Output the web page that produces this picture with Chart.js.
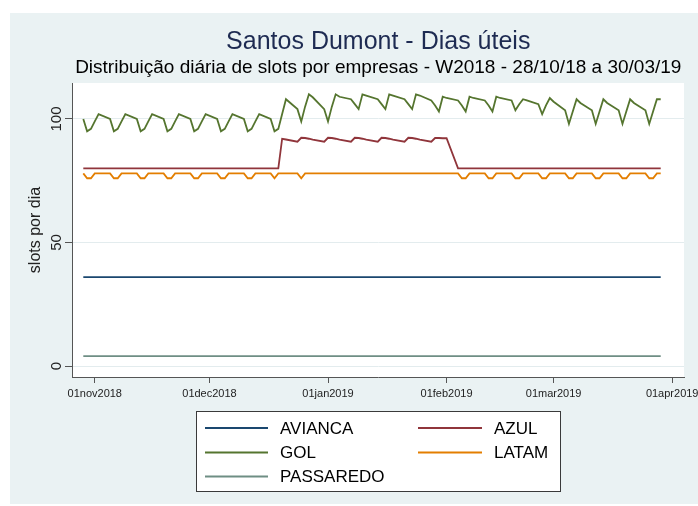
<!DOCTYPE html>
<html><head><meta charset="utf-8">
<style>html,body{margin:0;padding:0;background:#fff;}canvas{display:block;}</style>
<script src="https://cdn.jsdelivr.net/npm/chart.js@4.4.1/dist/chart.umd.min.js"></script>
</head><body>
<canvas id="c" width="698" height="506"></canvas>
<script>
// ---- data ----
const titleText = 'Santos Dumont - Dias úteis';
const subtitleText = 'Distribuição diária de slots por empresas - W2018 - 28/10/18 a 30/03/19';
const yAxisTitle = 'slots por dia';
const weekStarts = ['2018-10-29','2018-11-05','2018-11-12','2018-11-19','2018-11-26','2018-12-03','2018-12-10','2018-12-17','2018-12-24','2018-12-31','2019-01-07','2019-01-14','2019-01-21','2019-01-28','2019-02-04','2019-02-11','2019-02-18','2019-02-25','2019-03-04','2019-03-11','2019-03-18','2019-03-25'];
const xTickDates = ['2018-11-01','2018-12-01','2019-01-01','2019-02-01','2019-03-01','2019-04-01'];
const xTickLabels = ['01nov2018','01dec2018','01jan2019','01feb2019','01mar2019','01apr2019'];
const yTickValues = [0, 50, 100];
const seriesNames = ['AVIANCA','AZUL','GOL','LATAM','PASSAREDO'];

// one row per 5-day week (Mon..Fri), 22 weeks
const avianca = [
36,36,36,36,36, 36,36,36,36,36, 36,36,36,36,36, 36,36,36,36,36, 36,36,36,36,36, 36,36,36,36,36,
36,36,36,36,36, 36,36,36,36,36, 36,36,36,36,36, 36,36,36,36,36, 36,36,36,36,36, 36,36,36,36,36,
36,36,36,36,36, 36,36,36,36,36, 36,36,36,36,36, 36,36,36,36,36, 36,36,36,36,36, 36,36,36,36,36,
36,36,36,36,36, 36,36,36,36,36, 36,36,36,36,36, 36,36,36,36,36];
const azul = [
80,80,80,80,80, 80,80,80,80,80, 80,80,80,80,80, 80,80,80,80,80, 80,80,80,80,80, 80,80,80,80,80,
80,80,80,80,80, 80,80,80,92,91.7,
90.8,92.4,92.3,92,91.6, 90.8,92.4,92.3,92,91.6, 90.8,92.4,92.3,92,91.6, 90.8,92.4,92.3,92,91.6,
90.8,92.4,92.3,92,91.6, 90.8,92.3,92.3,92.2,92.2,
80,80,80,80,80, 80,80,80,80,80, 80,80,80,80,80, 80,80,80,80,80, 80,80,80,80,80, 80,80,80,80,80,
80,80,80,80,80, 80,80,80,80,80];
const gol = [
100,95,96,99,102, 100,95,96,99,102, 100,95,96,99,102, 100,95,96,99,102, 100,95,96,99,102,
100,95,96,99,102, 100,95,96,99,102, 100,95,96,102,108,
104,99,105,110,108.8, 104,99,105,110,109,
108,106,104,110,109.5, 108,106,104,110,109.5, 108,106,104,110,109.5,
107.5,105.5,103,109,108.5, 107.5,105.5,103,109,108.5, 107.5,105.5,103,109,108.5,
107.5,103.5,106,108,107.5, 106,102,105.5,108.5,107,
103.5,98,103,108,106.5, 103.5,98,103,108,106.5, 103.5,98,103,108,106.5, 103.5,98,103,108,108];
const latam = [
78,76,76,78,78, 78,76,76,78,78, 78,76,76,78,78, 78,76,76,78,78, 78,76,76,78,78, 78,76,76,78,78,
78,76,76,78,78, 78,76,78,78,78, 78,76,78,78,78,
78,78,78,78,78, 78,78,78,78,78, 78,78,78,78,78, 78,78,78,78,78, 78,78,78,78,78,
78,76,76,78,78, 78,76,76,78,78, 78,76,76,78,78, 78,76,76,78,78, 78,76,76,78,78,
78,76,76,78,78, 78,76,76,78,78, 78,76,76,78,78];
const passaredo = [
4,4,4,4,4, 4,4,4,4,4, 4,4,4,4,4, 4,4,4,4,4, 4,4,4,4,4, 4,4,4,4,4,
4,4,4,4,4, 4,4,4,4,4, 4,4,4,4,4, 4,4,4,4,4, 4,4,4,4,4, 4,4,4,4,4,
4,4,4,4,4, 4,4,4,4,4, 4,4,4,4,4, 4,4,4,4,4, 4,4,4,4,4, 4,4,4,4,4,
4,4,4,4,4, 4,4,4,4,4, 4,4,4,4,4, 4,4,4,4,4];
const seriesColors = ['#1a476f','#90353b','#55752f','#e37e00','#6e8e84'];

// ---- helpers ----
const ORIGIN = Date.UTC(2018, 9, 29);
function dayIndex(s) {
  const [y, m, d] = s.split('-').map(Number);
  return Math.round((Date.UTC(y, m - 1, d) - ORIGIN) / 86400000);
}
const days = [];
weekStarts.forEach(w => { const s = dayIndex(w); for (let k = 0; k < 5; k++) days.push(s + k); });
const toPts = arr => arr.map((v, i) => ({ x: days[i], y: v }));
const seriesValues = [avianca, azul, gol, latam, passaredo];

const FONT = '"Liberation Sans", Arial, Helvetica, sans-serif';
Chart.defaults.font.family = FONT;

const bgPlugin = {
  id: 'bg',
  beforeDraw(chart) {
    const { ctx, chartArea: a } = chart;
    ctx.save();
    ctx.fillStyle = '#ffffff';
    ctx.fillRect(0, 0, chart.width, chart.height);
    ctx.fillStyle = '#eaf2f3';
    ctx.fillRect(10, 13, chart.width - 10, chart.height - 15);
    ctx.fillStyle = '#ffffff';
    ctx.fillRect(a.left, a.top, a.right - a.left, a.bottom - a.top);
    ctx.restore();
  }
};

const textPlugin = {
  id: 'texts',
  afterDraw(chart) {
    const { ctx, chartArea: a } = chart;
    const cx = (a.left + a.right) / 2;
    ctx.save();
    ctx.textAlign = 'center';
    ctx.textBaseline = 'middle';
    ctx.fillStyle = '#1e2b52';
    ctx.font = '25px ' + FONT;
    ctx.fillText(titleText, cx, 42);
    ctx.fillStyle = '#000000';
    ctx.font = '19px ' + FONT;
    ctx.fillText(subtitleText, cx, 68);

    // legend
    const bx = 196, by = 411, bw = 364, bh = 80;
    ctx.fillStyle = '#ffffff';
    ctx.fillRect(bx, by, bw, bh);
    ctx.strokeStyle = '#3a3a3a';
    ctx.lineWidth = 1;
    ctx.strokeRect(bx + 0.5, by + 0.5, bw, bh);
    const cols = [[205, 268, 280], [418, 482, 494]];
    const rows = [428, 452.5, 476.5];
    ctx.textAlign = 'left';
    ctx.font = '17px ' + FONT;
    chart.data.datasets.forEach((ds, i) => {
      const c = cols[i % 2], r = rows[Math.floor(i / 2)];
      ctx.strokeStyle = ds.borderColor;
      ctx.lineWidth = 1.8;
      ctx.beginPath(); ctx.moveTo(c[0], r); ctx.lineTo(c[1], r); ctx.stroke();
      ctx.fillStyle = '#000000';
      ctx.fillText(ds.label, c[2], r + 1);
    });
    ctx.restore();
  }
};

new Chart(document.getElementById('c'), {
  type: 'line',
  data: {
    datasets: seriesNames.map((n, i) => ({
      label: n,
      data: toPts(seriesValues[i]),
      borderColor: seriesColors[i],
      backgroundColor: seriesColors[i],
      borderWidth: 1.8,
      pointRadius: 0,
      tension: 0,
      fill: false
    }))
  },
  options: {
    responsive: false,
    animation: false,
    devicePixelRatio: 1,
    layout: { padding: { left: 10, right: 14, top: 83, bottom: 0 } },
    plugins: { legend: { display: false }, tooltip: { enabled: false }, title: { display: false } },
    scales: {
      x: {
        type: 'linear',
        min: -2.824, max: 157.09,
        afterBuildTicks: s => { s.ticks = xTickDates.map(t => ({ value: dayIndex(t) })); },
        afterFit: s => { s.height = 129; s.paddingLeft = 0; s.paddingRight = 0; },
        ticks: {
          autoSkip: false, maxRotation: 0, minRotation: 0, padding: 4,
          font: { size: 11 }, color: '#222222',
          callback: (v, i) => xTickLabels[i]
        },
        grid: { drawOnChartArea: false, drawTicks: true, tickLength: 6, tickColor: '#555555' },
        border: { display: true, color: '#555555', width: 1 }
      },
      y: {
        min: -4.45, max: 114.57,
        afterBuildTicks: s => { s.ticks = yTickValues.map(v => ({ value: v })); },
        afterFit: s => { s.width = 62.5; s.paddingTop = 0; s.paddingBottom = 0; },
        ticks: {
          minRotation: 90, maxRotation: 90, crossAlign: 'center', padding: -4,
          font: { size: 15 }, color: '#222222'
        },
        grid: { color: '#e3ecee', lineWidth: 1, drawTicks: true, tickLength: 7.5, tickColor: '#555555' },
        border: { display: true, color: '#555555', width: 1 },
        title: { display: true, text: yAxisTitle, font: { size: 16 }, color: '#222222', padding: { top: 16.4, bottom: 0 } }
      }
    }
  },
  plugins: [bgPlugin, textPlugin]
});
</script>
</body></html>
